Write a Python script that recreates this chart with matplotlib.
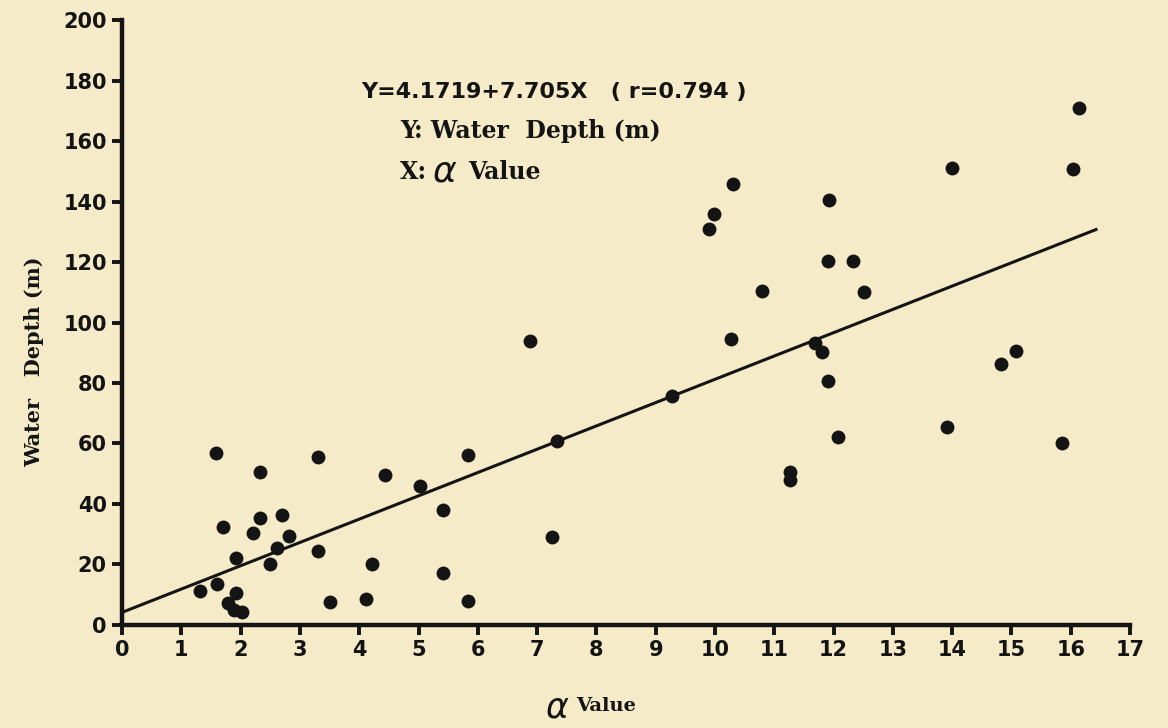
import matplotlib.pyplot as plt
import numpy as np

# data
alpha_value = [1.32, 1.59, 1.60, 1.71, 1.79, 1.88, 1.92, 1.92, 2.03, 2.21,
               2.32, 2.33, 2.50, 2.61, 2.69, 2.82, 3.31, 3.31, 3.51, 4.11,
               4.21, 4.43, 5.03, 5.42, 5.42, 5.83, 5.84, 6.88, 7.25, 7.33,
               9.27, 9.90, 9.99, 10.27, 10.31, 10.79, 11.26, 11.26, 11.69,
               11.80, 11.90, 11.90, 11.92, 12.08, 12.32, 12.51, 13.91, 14.00,
               14.82, 15.08, 15.86, 16.03, 16.14]
water_depth = [11.4, 56.8, 13.6, 32.5, 7.4, 5.0, 22.3, 10.7, 4.4, 30.3,
               35.3, 50.7, 20.2, 25.6, 36.4, 29.4, 55.6, 24.6, 7.5, 8.6,
               20.2, 49.6, 46.0, 38.0, 17.3, 8.0, 56.2, 94.0, 29.2, 60.9,
               75.7, 130.8, 136.0, 94.4, 145.7, 110.5, 50.7, 48.0, 93.3,
               90.3, 80.7, 120.4, 140.5, 62.3, 120.4, 110.2, 65.3, 151.0,
               86.3, 90.6, 60.3, 150.7, 170.8]
intercept = 4.1719
slope = 7.705
line_x_end = 16.45
x_ticks = list(range(0, 18))
y_ticks = list(range(0, 201, 20))

bg = '#f6ebc8'
ink = '#141414'

fig = plt.figure(figsize=(11.68, 7.28), dpi=100, facecolor=bg)
ax = fig.add_axes([0.1045, 0.1415, 0.863, 0.831])
ax.set_facecolor(bg)

ax.scatter(alpha_value, water_depth, s=100, color=ink, zorder=3,
           linewidths=0)
lx = np.array([0, line_x_end])
ax.plot(lx, intercept + slope * lx, color=ink, lw=2.2, zorder=2,
        solid_capstyle='butt')

ax.set_xlim(0, 17)
ax.set_ylim(0, 200)
ax.set_xticks(x_ticks)
ax.set_yticks(y_ticks)
for side in ['top', 'right']:
    ax.spines[side].set_visible(False)
for side in ['left', 'bottom']:
    ax.spines[side].set_linewidth(3.2)
    ax.spines[side].set_color(ink)
ax.tick_params(direction='out', length=7, width=2.8, color=ink,
               labelcolor=ink, pad=4)
for lab in ax.get_xticklabels() + ax.get_yticklabels():
    lab.set_family('DejaVu Sans')
    lab.set_weight('bold')
    lab.set_fontsize(15)

serif = 'DejaVu Serif'
# y label (placed by hand, it sits below the axis middle in the original)
fig.text(34 / 1168, 1 - 362 / 728, 'Water   Depth (m)', family=serif,
         weight='bold', fontsize=15, color=ink, rotation=90,
         ha='center', va='center')
fig.text(545 / 1168, 1 - 707 / 728, r'$\mathit{\alpha}$', fontsize=25,
         color=ink, ha='left', va='center')
fig.text(576 / 1168, 1 - 706 / 728, 'Value', family=serif, weight='bold',
         fontsize=14, color=ink, ha='left', va='center')

fig.text(361 / 1168, 1 - 92 / 728, 'Y=4.1719+7.705X   ( r=0.794 )',
         family='DejaVu Sans', weight='bold', fontsize=16, color=ink,
         ha='left', va='center')
fig.text(400 / 1168, 1 - 131 / 728, 'Y: Water  Depth (m)', family=serif,
         weight='bold', fontsize=17, color=ink, ha='left', va='center')
fig.text(400 / 1168, 1 - 172 / 728, 'X:', family=serif, weight='bold',
         fontsize=17, color=ink, ha='left', va='center')
fig.text(432 / 1168, 1 - 172 / 728, r'$\mathit{\alpha}$', fontsize=26,
         color=ink, ha='left', va='center')
fig.text(468 / 1168, 1 - 172 / 728, 'Value', family=serif, weight='bold',
         fontsize=17, color=ink, ha='left', va='center')

fig.savefig('out.png', dpi=100, facecolor=bg)
